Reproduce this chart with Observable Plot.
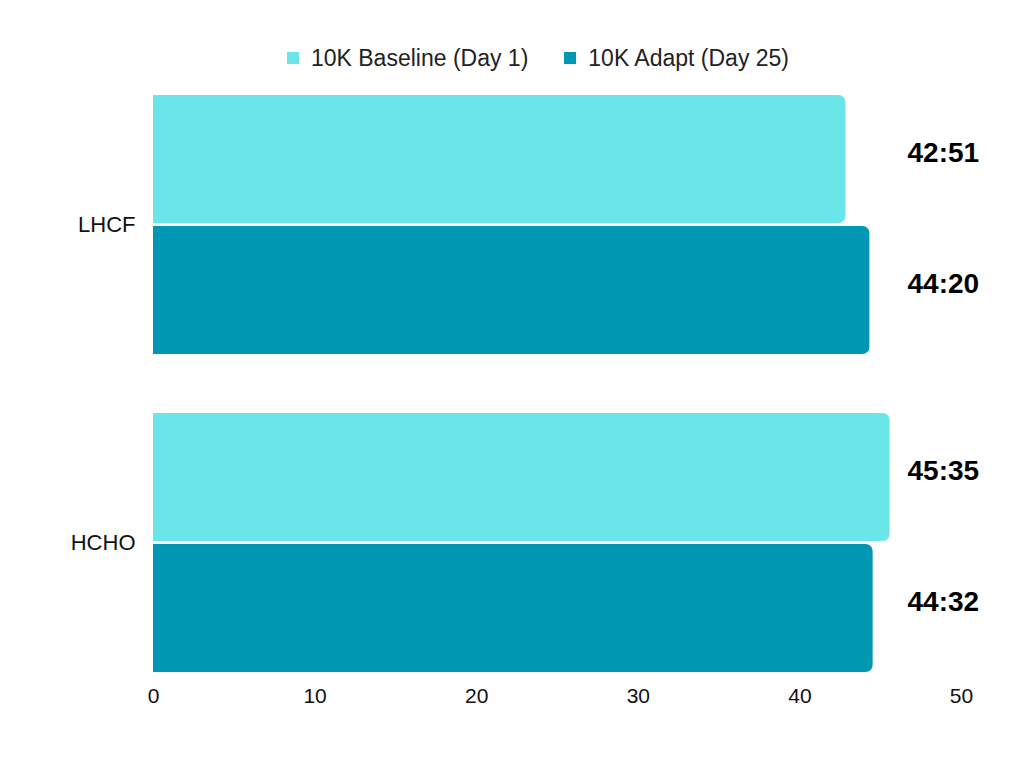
<!DOCTYPE html>
<html>
<head>
<meta charset="utf-8">
<script src="https://cdn.jsdelivr.net/npm/d3@7"></script>
<script src="https://cdn.jsdelivr.net/npm/@observablehq/plot@0.6"></script>
<style>
  body { margin: 0; background: #fff; font-family: "Liberation Sans", Arial, sans-serif; }
  #legend { height: 80px; display: flex; justify-content: center; align-items: flex-start; box-sizing: border-box; }
  #legend .inner { display: flex; gap: 36px; margin-top: 45px; padding-left: 52px; font-size: 23px; color: #222; line-height: 26px; }
  #legend .item { display: flex; align-items: center; gap: 12px; }
  #legend .sw { width: 12px; height: 12px; display: inline-block; }
</style>
</head>
<body>
<div id="legend"></div>
<div id="chart"></div>
<script>
const categories = ["LHCF", "HCHO"];
const series = ["10K Baseline (Day 1)", "10K Adapt (Day 25)"];
const colors = ["#6ae6e8", "#0097b2"];
const baselineLabels = ["42:51", "45:35"];
const adaptLabels = ["44:20", "44:32"];
const baselineValues = [42.85, 45.583];
const adaptValues = [44.333, 44.533];
const xTicks = [0, 10, 20, 30, 40, 50];

const data = [];
categories.forEach((c, i) => {
  data.push({cat: c, series: series[0], value: baselineValues[i], label: baselineLabels[i]});
  data.push({cat: c, series: series[1], value: adaptValues[i], label: adaptLabels[i]});
});

// legend
const leg = document.createElement("div");
leg.className = "inner";
series.forEach((s, i) => {
  const it = document.createElement("div");
  it.className = "item";
  const sw = document.createElement("span");
  sw.className = "sw";
  sw.style.background = colors[i];
  const tx = document.createElement("span");
  tx.textContent = s;
  it.appendChild(sw); it.appendChild(tx);
  leg.appendChild(it);
});
document.getElementById("legend").appendChild(leg);

const chart = Plot.plot({
  width: 1024,
  height: 688,
  marginTop: 15,
  marginBottom: 96,
  marginLeft: 153,
  marginRight: 63,
  style: { fontFamily: "Liberation Sans, Arial, sans-serif", fontSize: "21px", color: "#111", background: "#fff" },
  x: { domain: [0, 50], ticks: xTicks, tickSize: 0, tickPadding: 16, label: null, line: false },
  fy: { domain: categories, paddingInner: 0.186, paddingOuter: 0, label: null, axis: null },
  y: { domain: series, paddingInner: 0.023, paddingOuter: 0, axis: null },
  color: { domain: series, range: colors },
  marks: [
    Plot.axisFy({ anchor: "left", tickSize: 0, tickPadding: 18, fontSize: 22, label: null }),
    Plot.barX(data, { fy: "cat", y: "series", x1: 0, x2: "value", fill: "series", rx: 7 }),
    Plot.barX(data, { fy: "cat", y: "series", x1: 0, x2: d => d.value - 1, fill: "series" }),
    Plot.text(data, { fy: "cat", y: "series", text: "label", frameAnchor: "right", textAnchor: "start", dx: -54, dy: -6, fontSize: 28, fontWeight: "bold", fill: "#000" })
  ]
});
document.getElementById("chart").appendChild(chart);
</script>
</body>
</html>
